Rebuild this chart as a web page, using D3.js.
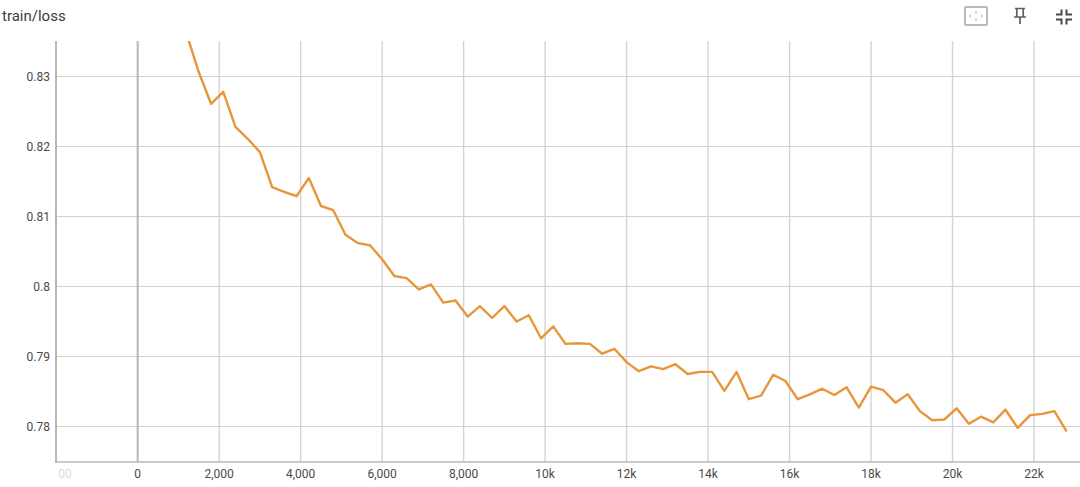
<!DOCTYPE html>
<html><head><meta charset="utf-8">
<script src="https://cdnjs.cloudflare.com/ajax/libs/d3/7.8.5/d3.min.js"></script>
<style>html,body{margin:0;padding:0;background:#fff}svg{display:block}text{font-family:Roboto,sans-serif}</style>
</head><body><svg id="c" width="1080" height="487"></svg>
<script>
const chartTitle = "train/loss";
const steps = [1200,1500,1800,2100,2400,2700,3000,3300,3600,3900,4200,4500,4800,5100,5400,5700,6000,6300,6600,6900,7200,7500,7800,8100,8400,8700,9000,9300,9600,9900,10200,10500,10800,11100,11400,11700,12000,12300,12600,12900,13200,13500,13800,14100,14400,14700,15000,15300,15600,15900,16200,16500,16800,17100,17400,17700,18000,18300,18600,18900,19200,19500,19800,20100,20400,20700,21000,21300,21600,21900,22200,22500,22800];
const loss = [.8361,.8306,.8261,.8278,.8228,.8211,.8192,.8142,.8135,.8129,.8155,.8115,.8109,.8074,.8062,.8059,.8039,.8015,.8012,.7996,.8003,.7977,.798,.7957,.7972,.7955,.7972,.795,.7959,.7926,.7943,.7918,.7919,.7918,.7904,.7911,.7892,.7879,.7886,.7882,.7889,.7875,.7878,.7878,.7851,.7878,.7839,.7844,.7874,.7865,.7839,.7846,.7854,.7845,.7856,.7827,.7857,.7852,.7834,.7846,.7822,.7809,.781,.7826,.7804,.7814,.7806,.7824,.7798,.7816,.7818,.7822,.7793];
const xTicks = [0,2000,4000,6000,8000,10000,12000,14000,16000,18000,20000,22000];
const xTickLabels = ["0","2,000","4,000","6,000","8,000","10k","12k","14k","16k","18k","20k","22k"];
const yTicks = [0.78,0.79,0.8,0.81,0.82,0.83];
const yTickLabels = ["0.78","0.79","0.8","0.81","0.82","0.83"];

const L=56,R=1080,T=41,B=462;
const x=d3.scaleLinear().domain([-2005,23129]).range([L,R]);
const y=d3.scaleLinear().domain([0.77493,0.83507]).range([B,T]);
const svg=d3.select("#c");
svg.append("defs").append("clipPath").attr("id","pl").append("rect").attr("x",L).attr("y",T).attr("width",R-L).attr("height",B-T);

svg.append("text").attr("x",2).attr("y",21).attr("font-size",15).attr("fill","#3c3c3c").text(chartTitle);

const grid=svg.append("g").attr("fill","none");
grid.selectAll(".gx").data(xTicks.filter(d=>d!==0)).join("line").attr("x1",d=>x(d)).attr("x2",d=>x(d)).attr("y1",T).attr("y2",B).attr("stroke","#d4d4d4").attr("stroke-width",1.4);
grid.selectAll(".gy").data(yTicks).join("line").attr("x1",L).attr("x2",R).attr("y1",d=>y(d)).attr("y2",d=>y(d)).attr("stroke","#d0d0d0").attr("stroke-width",1.2);
grid.append("line").attr("x1",x(0)).attr("x2",x(0)).attr("y1",T).attr("y2",B).attr("stroke","#b8b8b8").attr("stroke-width",2);
grid.append("line").attr("x1",L).attr("x2",L).attr("y1",T).attr("y2",B+1).attr("stroke","#b8b8b8").attr("stroke-width",2);
grid.append("line").attr("x1",L).attr("x2",R).attr("y1",B).attr("y2",B).attr("stroke","#b8b8b8").attr("stroke-width",1.6);

const line=d3.line().x((d,i)=>x(steps[i])).y(d=>y(d));
svg.append("path").datum(loss).attr("clip-path","url(#pl)").attr("d",line).attr("fill","none").attr("stroke","#e8963a").attr("stroke-width",2.4).attr("stroke-linejoin","round");

const xa=svg.append("g").attr("font-size",12).attr("fill","#4a4a4a").attr("text-anchor","middle");
xa.selectAll("text").data(xTicks).join("text").attr("x",d=>x(d)).attr("y",478).text((d,i)=>xTickLabels[i]);
svg.append("text").attr("x",65).attr("y",478).attr("font-size",12).attr("fill","#dcdcdc").attr("text-anchor","middle").text("00");
const ya=svg.append("g").attr("font-size",12).attr("fill","#4a4a4a").attr("text-anchor","end");
ya.selectAll("text").data(yTicks).join("text").attr("x",50).attr("y",d=>y(d)+4.3).text((d,i)=>yTickLabels[i]);

const ic=svg.append("g").attr("fill","none");
ic.append("rect").attr("x",965).attr("y",7).attr("width",22).attr("height",18).attr("rx",1).attr("stroke","#b9b9b9").attr("stroke-width",2);
ic.append("path").attr("d","M976 11l-2 2h4zM976 21l-2-2h4zM969 16l2-2v4zM983 16l-2-2v4z").attr("fill","#c9c9c9");
ic.append("path").attr("d","M1015 8.5h10M1016.8 9v7.5M1023.2 9v7.5M1014 17h12M1020 17v7").attr("stroke","#5f5f5f").attr("stroke-width",1.7);
ic.append("path").attr("d","M1056 14.5h5.5v-5M1072 14.5h-5.5v-5M1056 19.5h5.5v5M1072 19.5h-5.5v5").attr("stroke","#4a4a4a").attr("stroke-width",2);
</script></body></html>
